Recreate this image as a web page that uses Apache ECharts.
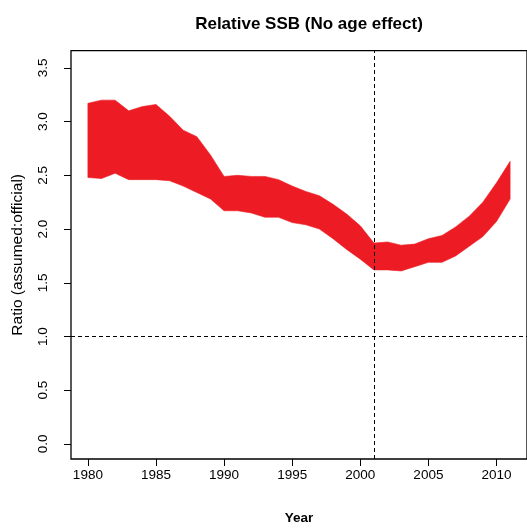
<!DOCTYPE html>
<html>
<head>
<meta charset="utf-8">
<script src="https://cdn.jsdelivr.net/npm/echarts@6/dist/echarts.min.js"></script>
<style>
html,body{margin:0;padding:0;background:#fff;}
#chart{width:527px;height:530px;}
</style>
</head>
<body>
<div id="chart"></div>
<script>
var years = [1980,1981,1982,1983,1984,1985,1986,1987,1988,1989,1990,1991,1992,1993,1994,1995,1996,1997,1998,1999,2000,2001,2002,2003,2004,2005,2006,2007,2008,2009,2010,2011];
var upper = [3.17,3.20,3.20,3.10,3.14,3.16,3.05,2.92,2.86,2.69,2.49,2.50,2.49,2.49,2.46,2.40,2.35,2.31,2.23,2.14,2.03,1.87,1.88,1.85,1.86,1.91,1.94,2.02,2.12,2.25,2.43,2.63];
var lower = [2.48,2.47,2.52,2.46,2.46,2.46,2.45,2.40,2.34,2.28,2.17,2.17,2.15,2.11,2.11,2.06,2.04,2.00,1.91,1.81,1.72,1.62,1.62,1.61,1.65,1.69,1.69,1.75,1.84,1.93,2.07,2.28];
var yTicks = [0,0.5,1,1.5,2,2.5,3,3.5];
var xTicks = [1980,1985,1990,1995,2000,2005,2010];
var refYear = 2001;
var refRatio = 1.0;

var bandData = years.map(function(y,i){return [y, lower[i], upper[i]];});

var chart = echarts.init(document.getElementById('chart'), null, {renderer:'canvas'});
var font = 'Liberation Sans, Arial, sans-serif';
chart.setOption({
  animation:false,
  backgroundColor:'#ffffff',
  title:{
    text:'Relative SSB (No age effect)',
    left:304, top:11, textAlign:'center',
    textStyle:{fontFamily:font, fontSize:17, fontWeight:'bold', color:'#000'}
  },
  grid:{left:71, top:50.7, width:457, height:410, show:true, borderColor:'#000', borderWidth:1.3, backgroundColor:'transparent'},
  xAxis:{
    type:'value', min:1978.76, max:2012.24,
    name:'Year', nameLocation:'middle', nameGap:52,
    nameTextStyle:{fontFamily:font, fontSize:13.5, fontWeight:'bold', color:'#000'},
    splitLine:{show:false},
    axisLine:{show:false, onZero:false},
    axisTick:{show:true, length:7, inside:false, customValues:xTicks, lineStyle:{color:'#000', width:1}},
    axisLabel:{show:true, margin:9, customValues:xTicks, fontFamily:font, fontSize:13.5, color:'#000', formatter:function(v){return String(v);}}
  },
  yAxis:{
    type:'value', min:-0.14, max:3.66,
    name:'Ratio (assumed:official)', nameLocation:'middle', nameGap:45, nameRotate:90,
    nameTextStyle:{fontFamily:font, fontSize:15.5, color:'#000'},
    splitLine:{show:false},
    axisLine:{show:false, onZero:false},
    axisTick:{show:true, length:7, inside:false, customValues:yTicks, lineStyle:{color:'#000', width:1}},
    axisLabel:{show:true, rotate:90, margin:21, customValues:yTicks, fontFamily:font, fontSize:13.5, color:'#000', formatter:function(v){return v.toFixed(1);}}
  },
  series:[
    {
      type:'custom',
      data:bandData,
      encode:{x:0, y:[1,2]},
      renderItem:function(params, api){
        if (params.dataIndex !== 0) return null;
        var pts = [];
        var i;
        for (i = 0; i < bandData.length; i++) pts.push(api.coord([bandData[i][0], bandData[i][2]]));
        for (i = bandData.length - 1; i >= 0; i--) pts.push(api.coord([bandData[i][0], bandData[i][1]]));
        return {type:'polygon', shape:{points:pts}, style:{fill:'#ed1c24', stroke:'#ed1c24', lineWidth:0.6}};
      },
      markLine:{
        silent:true, symbol:'none', label:{show:false},
        lineStyle:{color:'#000', type:[4,3], width:1},
        data:[{xAxis:refYear},{yAxis:refRatio}]
      }
    }
  ]
});
</script>
</body>
</html>
